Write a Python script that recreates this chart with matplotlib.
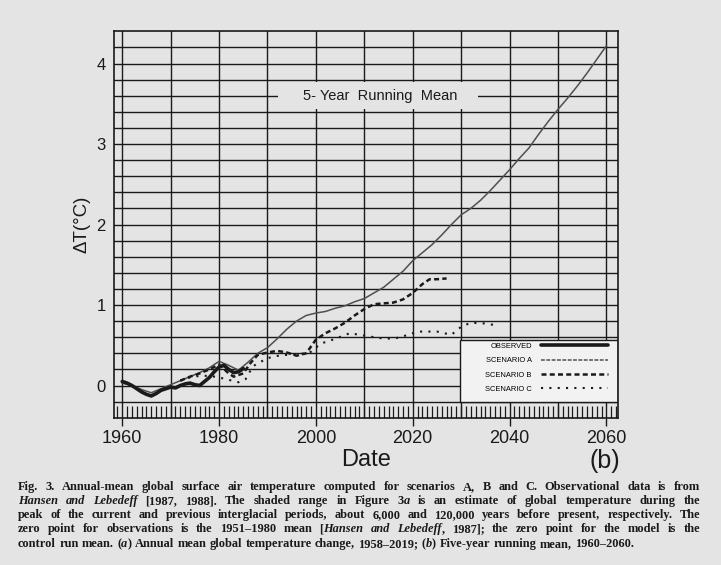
import matplotlib
matplotlib.use("Agg")
import matplotlib.pyplot as plt
from matplotlib.ticker import MultipleLocator
from matplotlib.patches import Rectangle
from matplotlib.lines import Line2D
import numpy as np

plt.rcParams['font.family'] = ['Liberation Sans', 'DejaVu Sans']

# 5-year running means
obs_years = [1960, 1961, 1962, 1963, 1964, 1965, 1966, 1967, 1968, 1969, 1970,
             1971, 1972, 1973, 1974, 1975, 1976, 1977, 1978, 1979, 1980, 1981,
             1982, 1983, 1984, 1985]
obs_vals = [0.05, 0.03, 0.0, -0.04, -0.08, -0.11, -0.13, -0.10, -0.06, -0.04, -0.02,
            -0.03, 0.0, 0.02, 0.03, 0.01, 0.0, 0.05, 0.10, 0.17, 0.23, 0.25,
            0.20, 0.16, 0.17, 0.21]

a_years = [1960, 1962, 1964, 1966, 1968, 1970, 1972, 1974, 1976, 1978, 1980, 1982,
           1984, 1986, 1988, 1990, 1992, 1994, 1996, 1998, 2000, 2002, 2004, 2006,
           2008, 2010, 2012, 2014, 2016, 2018, 2020, 2022, 2024, 2026, 2028, 2030,
           2032, 2034, 2036, 2038, 2040, 2042, 2044, 2046, 2048, 2050, 2052, 2054,
           2056, 2058, 2060]
a_vals = [0.03, 0.0, -0.05, -0.09, -0.04, 0.01, 0.06, 0.11, 0.16, 0.22, 0.30, 0.25,
          0.19, 0.29, 0.40, 0.47, 0.58, 0.70, 0.80, 0.87, 0.90, 0.92, 0.96, 0.99,
          1.04, 1.08, 1.15, 1.22, 1.32, 1.42, 1.55, 1.65, 1.75, 1.87, 2.00, 2.12,
          2.20, 2.30, 2.42, 2.55, 2.68, 2.82, 2.95, 3.12, 3.28, 3.43, 3.57, 3.72,
          3.88, 4.05, 4.22]

b_years = [1972, 1974, 1976, 1978, 1980, 1982, 1983, 1985, 1986.5, 1988, 1990, 1992,
           1994, 1996, 1998, 2000, 2002, 2004, 2006, 2008, 2010, 2012, 2014, 2016,
           2018, 2020, 2022, 2023.5, 2025, 2027]
b_vals = [0.06, 0.11, 0.15, 0.20, 0.26, 0.15, 0.11, 0.15, 0.28, 0.38, 0.41, 0.43,
          0.41, 0.37, 0.40, 0.57, 0.65, 0.71, 0.78, 0.87, 0.95, 1.01, 1.02, 1.03,
          1.07, 1.15, 1.26, 1.32, 1.32, 1.33]

c_years = [1972, 1974, 1976, 1978, 1980, 1982, 1984, 1985.5, 1987, 1990, 1993, 1996,
           1999, 2001, 2004, 2007, 2010, 2013, 2016, 2018, 2021, 2025, 2028, 2030,
           2032, 2035, 2037]
c_vals = [0.06, 0.10, 0.12, 0.12, 0.10, 0.07, 0.04, 0.08, 0.24, 0.34, 0.38, 0.38,
          0.42, 0.52, 0.58, 0.65, 0.62, 0.59, 0.58, 0.61, 0.67, 0.67, 0.63, 0.73,
          0.78, 0.77, 0.75]

legend_labels = ['OBSERVED', 'SCENARIO A', 'SCENARIO B', 'SCENARIO C']
y_ticks = [0, 1, 2, 3, 4]

caption = [
    "Fig. 3. Annual-mean global surface air temperature computed for scenarios A, B and C.  Observational data is from",
    "_Hansen and Lebedeff_ [1987, 1988]. The shaded range in Figure 3_a_ is an estimate of global temperature during the",
    "peak of the current and previous interglacial periods, about 6,000 and 120,000 years before present, respectively. The",
    "zero point for observations is the 1951\u20131980 mean [_Hansen and Lebedeff_, 1987]; the zero point for the model is the",
    "control run mean. (_a_) Annual mean global temperature change, 1958\u20132019; (_b_) Five-year running mean, 1960\u20132060.",
]

PAPER = '#e4e4e4'
INK = '#1a1a1a'

fig = plt.figure(figsize=(7.21, 5.65), dpi=100, facecolor=PAPER)
ax = fig.add_axes([114 / 721, 1 - 417.7 / 565, 504 / 721, 386.4 / 565])
ax.set_facecolor(PAPER)
ax.set_xlim(1958.3, 2062.4)
ax.set_ylim(-0.4, 4.4)

# ruled grid
for gx in np.arange(1960, 2061, 10):
    ax.axvline(gx, color=INK, lw=1.0, zorder=1)
for gy in np.arange(-0.2, 4.3, 0.2):
    ax.axhline(gy, color=INK, lw=1.0, zorder=1)
for sp in ax.spines.values():
    sp.set_color(INK)
    sp.set_linewidth(1.2)

ax.xaxis.set_major_locator(MultipleLocator(20))
ax.xaxis.set_minor_locator(MultipleLocator(1))
ax.tick_params(axis='x', which='major', direction='out', length=6, width=1.0,
               labelsize=13, pad=3, colors=INK)
ax.tick_params(axis='x', which='minor', direction='in', length=8.5, width=0.9, colors=INK)
ax.set_yticks(y_ticks)
ax.tick_params(axis='y', length=0, pad=6, labelsize=12, colors=INK)

ax.set_xlabel("Date", fontsize=17, labelpad=1, color=INK)
ax.set_ylabel("\u0394T(\u00b0C)", fontsize=13.5, labelpad=4, color=INK)

# curves
a_style = dict(color='#4f4f4f', lw=1.1)
b_style = dict(color=INK, lw=1.8, ls=(0, (2, 1.3)))
c_style = dict(color=INK, lw=1.5, ls=(0, (1, 3)))
o_style = dict(color=INK, lw=2.6, solid_capstyle='round')
ax.plot(a_years, a_vals, zorder=3, **a_style)
ax.plot(b_years, b_vals, zorder=3, **b_style)
ax.plot(c_years, c_vals, zorder=3, **c_style)
ax.plot(obs_years, obs_vals, zorder=4, **o_style)

# title box on the grid
ax.add_patch(Rectangle((1992.2, 3.43), 41.3, 0.34, facecolor=PAPER,
                       edgecolor='none', zorder=2))
ax.text(2013.2, 3.6, "5- Year  Running  Mean", ha='center', va='center',
        fontsize=10.5, color=INK, zorder=3)

# legend box
ax.add_patch(Rectangle((0.687, 0.04), 0.313, 0.161, transform=ax.transAxes,
                       facecolor='#f2f2f2', edgecolor=INK, lw=1.0, zorder=2.5))
handles = [Line2D([], [], **o_style),
           Line2D([], [], color='#4f4f4f', lw=1.1, ls=(0, (2.5, 1))),
           Line2D([], [], **b_style), Line2D([], [], **c_style)]
leg = ax.legend(handles, legend_labels, loc='upper right',
                bbox_to_anchor=(0.985, 0.2), frameon=False, markerfirst=False,
                handlelength=9.0, handletextpad=1.2, labelspacing=0.95,
                fontsize=5.4, borderpad=0.3, borderaxespad=0)
leg.set_zorder(5)

fig.text(605 / 721, 1 - 461 / 565, "(b)", fontsize=18, ha='center', va='center',
         color=INK)

# justified caption
renderer = fig.canvas.get_renderer()
cap_size = 8.9
left_px, right_px = 18, 700
baselines = [490, 504, 518, 532, 547]
H = 565.0
W = 721.0
for li, line in enumerate(caption):
    words = []
    italic = False
    for w in line.split():
        parts = []
        for k, piece in enumerate(w.split('_')):
            if k > 0:
                italic = not italic
            if piece:
                t = fig.text(0, 0, piece, fontsize=cap_size, family='Liberation Serif',
                             weight='bold', style='italic' if italic else 'normal',
                             color=INK, va='baseline')
                parts.append(t)
        words.append(parts)
    widths = []
    for parts in words:
        widths.append(sum(t.get_window_extent(renderer).width for t in parts))
    total = sum(widths)
    if li < len(caption) - 1:
        gap = max((right_px - left_px - total) / (len(words) - 1), 1.5)
    else:
        gap = cap_size * 100 / 72 * 0.27
    x = left_px
    for parts in words:
        for t in parts:
            t.set_position((x / W, 1 - baselines[li] / H))
            x += t.get_window_extent(renderer).width
        x += gap

fig.savefig("out.png", dpi=100, facecolor=PAPER)
